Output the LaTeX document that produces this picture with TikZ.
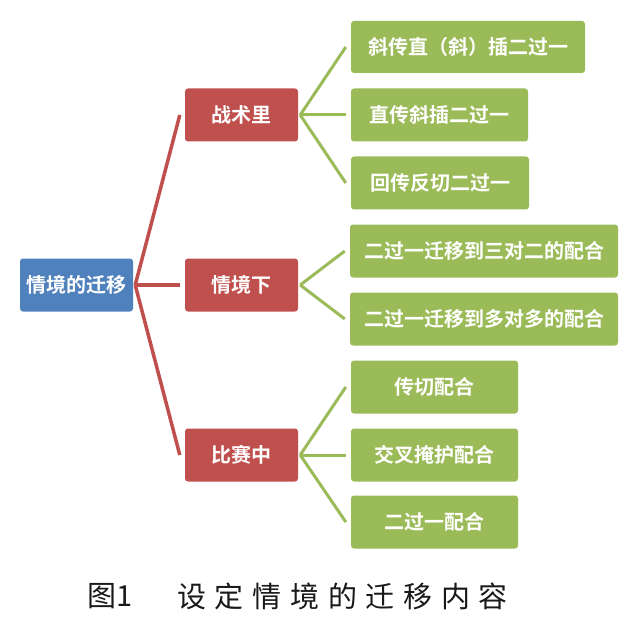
\documentclass[tikz,border=0pt]{standalone}
\usepackage{fontspec}
\setmainfont{Noto Sans CJK SC}[BoldFont={* Bold}]
\newfontfamily\capfont[LetterSpace=30]{Noto Sans CJK SC}
\definecolor{cblue}{HTML}{4F81BD}
\definecolor{cred}{HTML}{C0504D}
\definecolor{cgreen}{HTML}{9BBB59}
\begin{document}
\begin{tikzpicture}[x=1pt,y=-1pt,
  box/.style={rounded corners=3pt,inner sep=0pt,text=white,font=\fontsize{20}{22}\selectfont\bfseries},
  rootbox/.style={box,fill=cblue},
  midbox/.style={box,fill=cred},
  leafbox/.style={box,fill=cgreen},
  redline/.style={draw=cred,line width=3.5pt},
  greenline/.style={draw=cgreen,line width=3pt}]
\useasboundingbox (0,0) rectangle (634,636);
% root
\node[rootbox,minimum width=113pt,minimum height=53pt] (root) at (76.5,285) {情境的迁移};
% middle
\node[midbox,minimum width=113pt,minimum height=53pt] (m1) at (241.5,115) {战术里};
\node[midbox,minimum width=113pt,minimum height=53pt] (m2) at (241.5,285) {情境下};
\node[midbox,minimum width=113pt,minimum height=53pt] (m3) at (241.5,455) {比赛中};
% leaves
\node[leafbox,minimum width=234pt,minimum height=52pt] (l1) at (468,47) {斜传直（斜）插二过一};
\node[leafbox,minimum width=177pt,minimum height=53pt] (l2) at (439.5,115) {直传斜插二过一};
\node[leafbox,minimum width=178pt,minimum height=53pt] (l3) at (440,183) {回传反切二过一};
\node[leafbox,minimum width=268pt,minimum height=53pt] (l4) at (484,251) {二过一迁移到三对二的配合};
\node[leafbox,minimum width=268pt,minimum height=53pt] (l5) at (484,319) {二过一迁移到多对多的配合};
\node[leafbox,minimum width=167pt,minimum height=53pt] (l6) at (434.5,387) {传切配合};
\node[leafbox,minimum width=167pt,minimum height=53pt] (l7) at (434.5,455) {交叉掩护配合};
\node[leafbox,minimum width=167pt,minimum height=53pt] (l8) at (434.5,522) {二过一配合};
% connection points
\coordinate (r0) at ([xshift=2pt]root.east);
\foreach \m in {m1,m2,m3}{
  \draw[redline] (r0) -- ([xshift=-5pt]\m.west);
}
\coordinate (g1) at ([xshift=2pt]m1.east);
\coordinate (g2) at ([xshift=2pt]m2.east);
\coordinate (g3) at ([xshift=2pt]m3.east);
\foreach \l in {l1,l2,l3}{\draw[greenline] (g1) -- ([xshift=-5pt]\l.west);}
\foreach \l in {l4,l5}{\draw[greenline] (g2) -- ([xshift=-5pt]\l.west);}
\foreach \l in {l6,l7,l8}{\draw[greenline] (g3) -- ([xshift=-5pt]\l.west);}
% caption
\node[anchor=west,inner sep=0pt,text=black!90,font=\fontsize{29}{32}\selectfont] (cap1) at (87,596) {图1};
\node[anchor=west,inner sep=0pt,text=black!90,font=\fontsize{29}{32}\capfont] (cap2) at (177,596) {设定情境的迁移内容};
\end{tikzpicture}
\end{document}
